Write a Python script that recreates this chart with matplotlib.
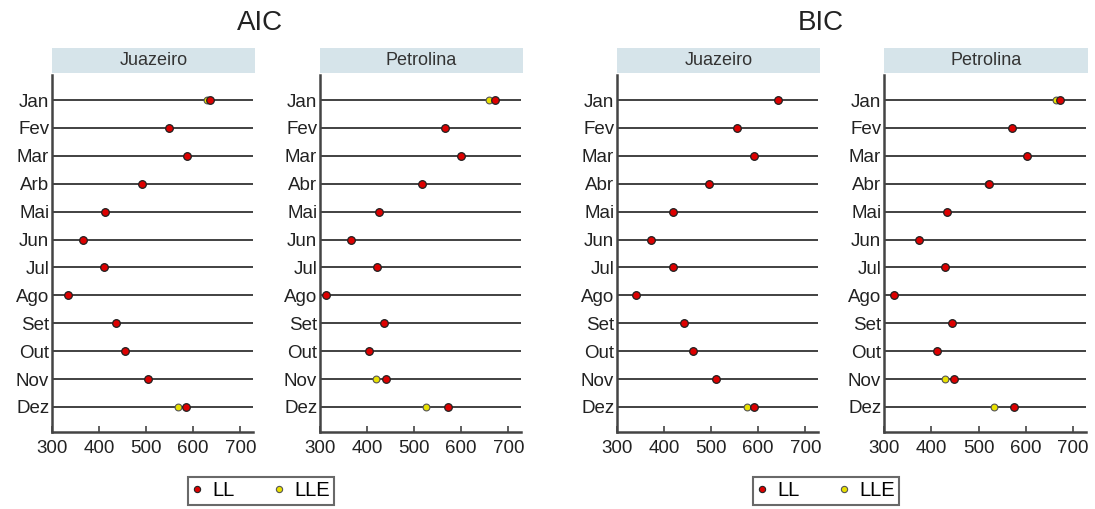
import matplotlib.pyplot as plt

meses = ["Jan", "Fev", "Mar", "Arb", "Mai", "Jun", "Jul", "Ago", "Set", "Out", "Nov", "Dez"]
meses_pet = ["Jan", "Fev", "Mar", "Abr", "Mai", "Jun", "Jul", "Ago", "Set", "Out", "Nov", "Dez"]

# AIC
aic_jua_ll = [636, 549, 587, 491, 413, 366, 411, 335, 436, 455, 504, 585]
aic_jua_lle = [630, 549, 587, 491, 413, 366, 411, 333, 436, 455, 504, 568]
aic_pet_ll = [671, 566, 599, 516, 425, 366, 422, 313, 436, 404, 440, 571]
aic_pet_lle = [659, 566, 599, 516, 425, 366, 422, 313, 436, 404, 419, 525]

# BIC
bic_jua_ll = [643, 555, 591, 496, 420, 372, 418, 341, 442, 461, 510, 590]
bic_jua_lle = [643, 555, 591, 496, 420, 372, 418, 341, 442, 461, 510, 576]
bic_pet_ll = [673, 571, 603, 522, 433, 375, 430, 322, 444, 412, 447, 575]
bic_pet_lle = [664, 571, 603, 520, 433, 375, 429, 322, 444, 412, 428, 533]

plt.rcParams['font.family'] = ['Liberation Sans', 'DejaVu Sans']

fig = plt.figure(figsize=(10.95, 5.09), dpi=100)
W, H = 1095, 509

paineis = [
    (52, 253, "Juazeiro", meses, aic_jua_ll, aic_jua_lle),
    (320, 521, "Petrolina", meses_pet, aic_pet_ll, aic_pet_lle),
    (617, 818, "Juazeiro", meses_pet, bic_jua_ll, bic_jua_lle),
    (884, 1086, "Petrolina", meses_pet, bic_pet_ll, bic_pet_lle),
]

top, bottom = 75, 432
for x0, x1, nome, labels, ll, lle in paineis:
    ax = fig.add_axes([x0 / W, 1 - bottom / H, (x1 - x0) / W, (bottom - top) / H])
    y = list(range(len(labels)))
    for yi in y:
        ax.axhline(yi, color='#333333', lw=1.3, zorder=1)
    ax.scatter(lle, y, s=24, color='#e8e000', edgecolors='#555555', linewidths=0.8, zorder=3)
    ax.scatter(ll, y, s=30, color='#dd0000', edgecolors='#222222', linewidths=0.9, zorder=4)
    ax.set_xlim(300, 727)
    ax.set_ylim(11.9, -0.9)
    ax.set_yticks(y)
    ax.set_yticklabels(labels)
    ax.set_xticks([300, 400, 500, 600, 700])
    ax.tick_params(axis='y', length=0, pad=2, labelsize=13.5, labelcolor='#222222')
    ax.tick_params(axis='x', direction='in', length=4, width=1.2, color='#444444',
                   pad=6, labelsize=13.5, labelcolor='#222222')
    for s in ['top', 'right']:
        ax.spines[s].set_visible(False)
    for s in ['left', 'bottom']:
        ax.spines[s].set_color('#444444')
        ax.spines[s].set_linewidth(1.8)
    # faixa com o nome da cidade
    sx = fig.add_axes([x0 / W, 1 - 73 / H, (x1 - x0 + 2) / W, 25 / H])
    sx.set_facecolor('#d6e4ea')
    sx.set_xticks([])
    sx.set_yticks([])
    for s in sx.spines.values():
        s.set_visible(False)
    sx.text(0.5, 0.5, nome, ha='center', va='center', fontsize=13, color='#333333')

fig.text(260 / W, 1 - 23 / H, "AIC", ha='center', va='center', fontsize=20, color='#222222')
fig.text(821 / W, 1 - 23 / H, "BIC", ha='center', va='center', fontsize=20, color='#222222')

h1 = plt.Line2D([], [], ls='', marker='o', ms=4.5, mfc='#dd0000', mec='#222222', mew=0.8)
h2 = plt.Line2D([], [], ls='', marker='o', ms=4.5, mfc='#e8e000', mec='#555555', mew=0.8)
for cx in [261, 826]:
    leg = fig.legend([h1, h2], ["LL", "LLE"], loc='center', bbox_to_anchor=(cx / W, 1 - 491 / H),
                     ncol=2, fontsize=14.5, frameon=True, fancybox=False, handlelength=0.5,
                     handletextpad=0.5, columnspacing=2.0, borderpad=0.2)
    leg.get_frame().set_edgecolor('#444444')
    leg.get_frame().set_linewidth(1.5)

fig.savefig("out.png", dpi=100)
